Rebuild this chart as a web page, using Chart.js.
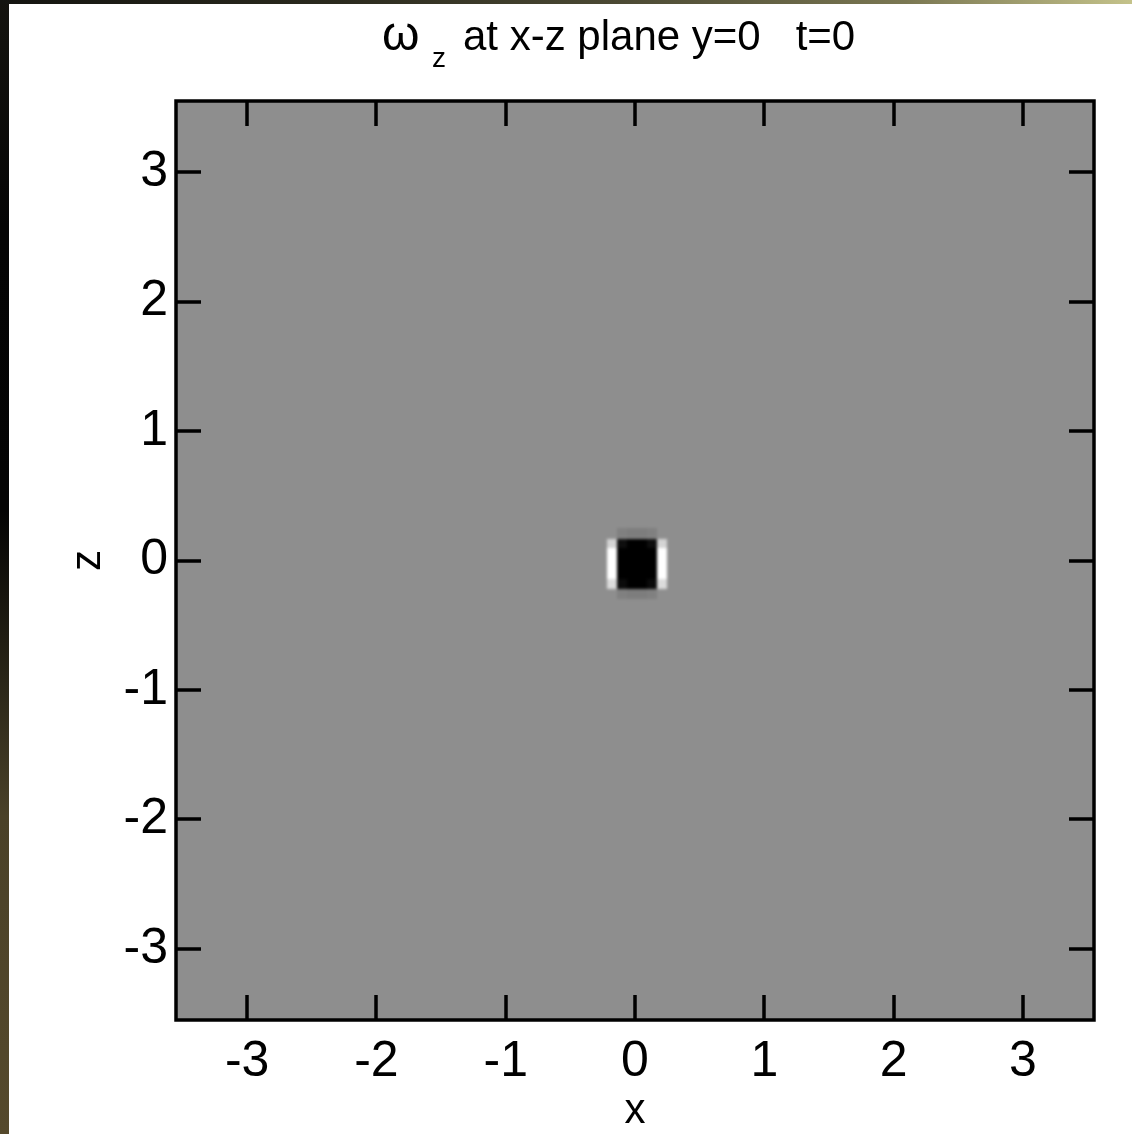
<!DOCTYPE html>
<html>
<head>
<meta charset="utf-8">
<script src="https://cdn.jsdelivr.net/npm/chart.js@4/dist/chart.umd.min.js"></script>
<style>
  html, body { margin: 0; padding: 0; }
  body { width: 1132px; height: 1134px; position: relative; overflow: hidden; background: #fff; }
  .edge-left {
    position: absolute; left: 0; top: 0; width: 9px; height: 1134px;
    background: linear-gradient(to bottom, #15140f 0%, #050505 20%, #040404 45%, #2a2618 60%, #4a4128 72%, #55492c 100%);
  }
  .edge-top {
    position: absolute; left: 0; top: 0; width: 1132px; height: 4px;
    background: linear-gradient(to right, #141410 0%, #2b2a1e 30%, #4c4a34 55%, #7a7752 80%, #c4c28a 100%);
  }
  #wrap { position: absolute; left: 0; top: 0; width: 1132px; height: 1134px; }
</style>
</head>
<body>
<div class="edge-left"></div>
<div class="edge-top"></div>
<div id="wrap"><canvas id="vort"></canvas></div>
<script>
// grid of the vortex core (cell centres) and omega_z values
const xCenters = [-0.179, -0.101, -0.024, 0.054, 0.131, 0.209];
const zCenters = [0.209, 0.131, 0.054, -0.024, -0.101, -0.179, -0.256];
const omegaZ = [
  [0.00, -0.10, -0.12, -0.12, -0.10, 0.00],
  [0.50, -0.90, -1.00, -1.00, -0.90, 0.50],
  [0.80, -1.00, -1.00, -1.00, -1.00, 0.80],
  [0.80, -1.00, -1.00, -1.00, -1.00, 0.80],
  [0.80, -1.00, -1.00, -1.00, -1.00, 0.80],
  [0.55, -0.92, -1.00, -1.00, -0.92, 0.55],
  [0.00, -0.10, -0.12, -0.12, -0.10, 0.00]
];
const cellSize = 0.0775;
const xTicks = [-3, -2, -1, 0, 1, 2, 3];
const zTicks = [-3, -2, -1, 0, 1, 2, 3];
const vMin = -1, vMax = 0.8;

const FONT = '"Liberation Sans", Arial, Helvetica, sans-serif';

function grayOf(v) {
  let t = (v - vMin) / (vMax - vMin);
  t = Math.max(0, Math.min(1, t));
  const g = Math.round(255 * t);
  return `rgb(${g},${g},${g})`;
}

const cells = [];
zCenters.forEach((z, i) => {
  xCenters.forEach((x, j) => {
    cells.push({ x: x, y: z, v: omegaZ[i][j] });
  });
});

// shaded field: zero background, cells painted crisp off-screen then smoothed
const fieldPlugin = {
  id: 'field',
  beforeDatasetsDraw(chart) {
    const { ctx, chartArea: a, scales: { x, y } } = chart;
    const off = document.createElement('canvas');
    off.width = chart.width;
    off.height = chart.height;
    const oc = off.getContext('2d');
    oc.fillStyle = grayOf(0);
    oc.fillRect(a.left, a.top, a.right - a.left, a.bottom - a.top);
    chart.data.datasets[0].data.forEach(c => {
      const x0 = Math.round(x.getPixelForValue(c.x - cellSize / 2));
      const x1 = Math.round(x.getPixelForValue(c.x + cellSize / 2));
      const y0 = Math.round(y.getPixelForValue(c.y + cellSize / 2));
      const y1 = Math.round(y.getPixelForValue(c.y - cellSize / 2));
      oc.fillStyle = grayOf(c.v);
      oc.fillRect(x0, y0, x1 - x0, y1 - y0);
    });
    ctx.save();
    ctx.beginPath();
    ctx.rect(a.left, a.top, a.right - a.left, a.bottom - a.top);
    ctx.clip();
    ctx.fillStyle = grayOf(0);
    ctx.fillRect(a.left, a.top, a.right - a.left, a.bottom - a.top);
    ctx.filter = 'blur(1.5px)';
    ctx.drawImage(off, 0, 0);
    ctx.restore();
  }
};

// box with inward ticks on all four sides
const framePlugin = {
  id: 'frame',
  afterDatasetsDraw(chart) {
    const { ctx, chartArea: a, scales: { x, y } } = chart;
    const len = 25;
    ctx.save();
    ctx.strokeStyle = '#000';
    ctx.lineWidth = 3.5;
    ctx.beginPath();
    xTicks.forEach(v => {
      const px = Math.round(x.getPixelForValue(v));
      ctx.moveTo(px, a.bottom); ctx.lineTo(px, a.bottom - len);
      ctx.moveTo(px, a.top); ctx.lineTo(px, a.top + len);
    });
    zTicks.forEach(v => {
      const py = Math.round(y.getPixelForValue(v));
      ctx.moveTo(a.left, py); ctx.lineTo(a.left + len, py);
      ctx.moveTo(a.right, py); ctx.lineTo(a.right - len, py);
    });
    ctx.stroke();
    ctx.strokeRect(a.left, a.top, a.right - a.left, a.bottom - a.top);
    ctx.restore();
  }
};

// title with subscript
const titlePlugin = {
  id: 'subTitle',
  afterDraw(chart) {
    const { ctx, chartArea: a } = chart;
    const main = 'at x-z plane y=0   t=0';
    const start = a.left + 287;
    ctx.save();
    ctx.fillStyle = '#000';
    ctx.textBaseline = 'alphabetic';
    ctx.font = `48px ${FONT}`;
    ctx.fillText('\u03c9', start - 81, 50);
    ctx.font = `28px ${FONT}`;
    ctx.fillText('z', start - 31, 67);
    ctx.font = `42px ${FONT}`;
    ctx.fillText(main, start, 50);
    ctx.restore();
  }
};

new Chart(document.getElementById('vort'), {
  type: 'scatter',
  data: {
    datasets: [{
      label: 'omega_z',
      data: cells,
      pointRadius: 0,
      pointHoverRadius: 0
    }]
  },
  options: {
    responsive: true,
    maintainAspectRatio: false,
    animation: false,
    events: [],
    layout: { padding: { left: 0, right: 38, top: 101, bottom: 0 } },
    plugins: {
      legend: { display: false },
      tooltip: { enabled: false },
      title: { display: false }
    },
    scales: {
      x: {
        type: 'linear',
        min: -3.55,
        max: 3.55,
        afterBuildTicks: s => { s.ticks = xTicks.map(v => ({ value: v })); },
        afterFit: s => { s.height = 114; },
        grid: { display: false, drawTicks: false },
        border: { display: false },
        ticks: {
          color: '#000',
          padding: 12,
          maxRotation: 0,
          font: { family: FONT, size: 50 }
        },
        title: {
          display: true,
          text: 'x',
          color: '#000',
          padding: { top: 0, bottom: -3 },
          font: { family: FONT, size: 42 }
        }
      },
      y: {
        type: 'linear',
        min: -3.55,
        max: 3.55,
        afterBuildTicks: s => { s.ticks = zTicks.map(v => ({ value: v })); },
        afterFit: s => { s.width = 176; },
        grid: { display: false, drawTicks: false },
        border: { display: false },
        ticks: {
          color: '#000',
          padding: 8,
          font: { family: FONT, size: 50 }
        },
        title: {
          display: true,
          text: 'z',
          color: '#000',
          padding: { top: 63, bottom: 0 },
          font: { family: FONT, size: 42 }
        }
      }
    }
  },
  plugins: [fieldPlugin, framePlugin, titlePlugin]
});
</script>
</body>
</html>
